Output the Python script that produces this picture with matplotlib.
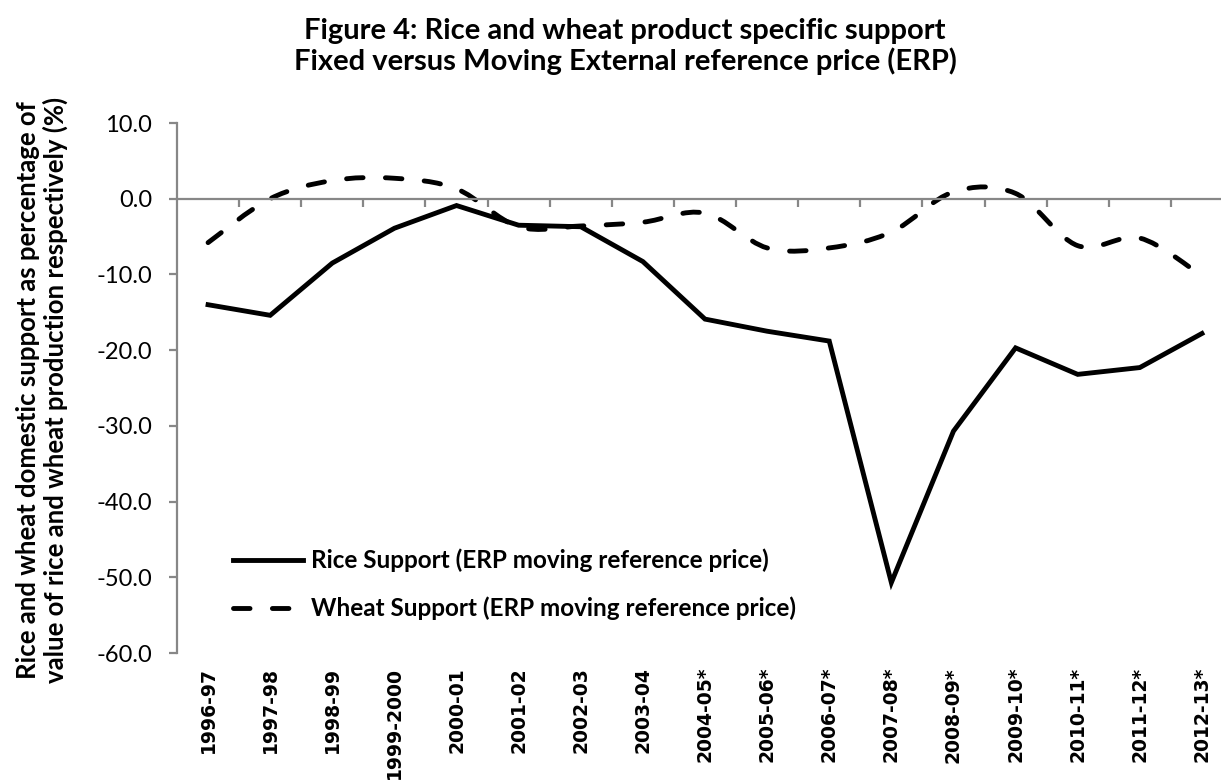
import matplotlib
matplotlib.use("Agg")
import matplotlib.pyplot as plt
from matplotlib.path import Path
from matplotlib.patches import PathPatch
from matplotlib.lines import Line2D

# data
years = ["1996-97", "1997-98", "1998-99", "1999-2000", "2000-01", "2001-02",
         "2002-03", "2003-04", "2004-05*", "2005-06*", "2006-07*", "2007-08*",
         "2008-09*", "2009-10*", "2010-11*", "2011-12*", "2012-13*"]
rice = [-14.0, -15.4, -8.5, -3.9, -0.9, -3.5, -3.7, -8.3, -15.9, -17.5,
        -18.8, -50.7, -30.7, -19.7, -23.2, -22.3, -17.8]
wheat = [-5.8, 0.0, 2.4, 2.7, 1.3, -3.7, -3.6, -3.1, -1.9, -6.5,
         -6.5, -4.4, 0.9, 0.7, -6.2, -5.2, -10.2]
yticks = [10, 0, -10, -20, -30, -40, -50, -60]
ytick_labels = ["10.0", "0.0", "-10.0", "-20.0", "-30.0", "-40.0", "-50.0", "-60.0"]

GRAY = "#878787"
LW = 3.5
DASH = (0, (3.4, 4.6))


def smooth_path(xs, ys):
    # excel style smoothed line: bezier through every point
    n = len(xs)
    verts = [(xs[0], ys[0])]
    codes = [Path.MOVETO]
    for i in range(n - 1):
        x0, y0 = xs[max(i - 1, 0)], ys[max(i - 1, 0)]
        x1, y1 = xs[i], ys[i]
        x2, y2 = xs[i + 1], ys[i + 1]
        x3, y3 = xs[min(i + 2, n - 1)], ys[min(i + 2, n - 1)]
        c1 = (x1 + (x2 - x0) / 6.0, y1 + (y2 - y0) / 6.0)
        c2 = (x2 - (x3 - x1) / 6.0, y2 - (y3 - y1) / 6.0)
        verts += [c1, c2, (x2, y2)]
        codes += [Path.CURVE4] * 3
    return Path(verts, codes)


fig = plt.figure(figsize=(12.21, 7.83), dpi=100)
ax = fig.add_axes([177 / 1221, 1 - 653 / 783, 1056 / 1221, (653 - 123) / 783])

x = list(range(len(years)))
ax.plot(x, rice, color="black", lw=LW, solid_joinstyle="miter")

wp = PathPatch(smooth_path(x, wheat), fill=False, edgecolor="black", lw=LW,
               linestyle=DASH, capstyle="round")
ax.add_patch(wp)

ax.set_xlim(-0.5, len(years) - 0.5)
ax.set_ylim(-60, 10)

# y axis
ax.spines["top"].set_visible(False)
ax.spines["right"].set_visible(False)
ax.spines["left"].set_color(GRAY)
ax.spines["left"].set_linewidth(1.6)
ax.set_yticks(yticks)
ax.set_yticklabels(ytick_labels, fontfamily="Lato", fontsize=17)
ax.tick_params(axis="y", length=6, width=1.6, color=GRAY, pad=12)

# category axis crossing at zero
ax.spines["bottom"].set_position(("data", 0))
ax.spines["bottom"].set_color(GRAY)
ax.spines["bottom"].set_linewidth(1.6)
ax.set_xticks([i - 0.5 for i in range(1, len(years))])
ax.set_xticklabels([])
ax.tick_params(axis="x", length=6, width=1.6, color=GRAY, direction="out")

sec = ax.secondary_xaxis("bottom")
sec.set_xticks(x)
sec.set_xticklabels(years, rotation=90, fontfamily="DejaVu Sans",
                    fontweight="bold", fontsize=13.5)
sec.tick_params(length=0, pad=10)
sec.spines["bottom"].set_visible(False)

fig.text(42 / 1221, 1 - 390 / 783,
         "Rice and wheat domestic support as percentage of\n"
         "value of rice and wheat production respectively (%)",
         rotation=90, ha="center", va="center", multialignment="center",
         fontfamily="Lato", fontweight="bold", fontsize=18.5, linespacing=1.12)

fig.text(625 / 1221, 1 - 18 / 783,
         "Figure 4: Rice and wheat product specific support\n"
         "Fixed versus Moving External reference price (ERP)",
         ha="center", va="top", fontfamily="Lato", fontweight="bold",
         fontsize=21, linespacing=1.15)

handles = [Line2D([], [], color="black", lw=LW),
           Line2D([], [], color="black", lw=LW, linestyle=DASH,
                  dash_capstyle="round")]
labels = ["Rice Support (ERP moving reference price)",
          "Wheat Support (ERP moving reference price)"]
ax.legend(handles, labels, loc="upper left", bbox_to_anchor=(0.053, 0.197),
          frameon=False, borderpad=0, borderaxespad=0, handlelength=2.9,
          handletextpad=0.33, labelspacing=1.0,
          prop={"family": "Lato", "weight": "bold", "size": 17.5})

fig.savefig("out.png", dpi=100)
